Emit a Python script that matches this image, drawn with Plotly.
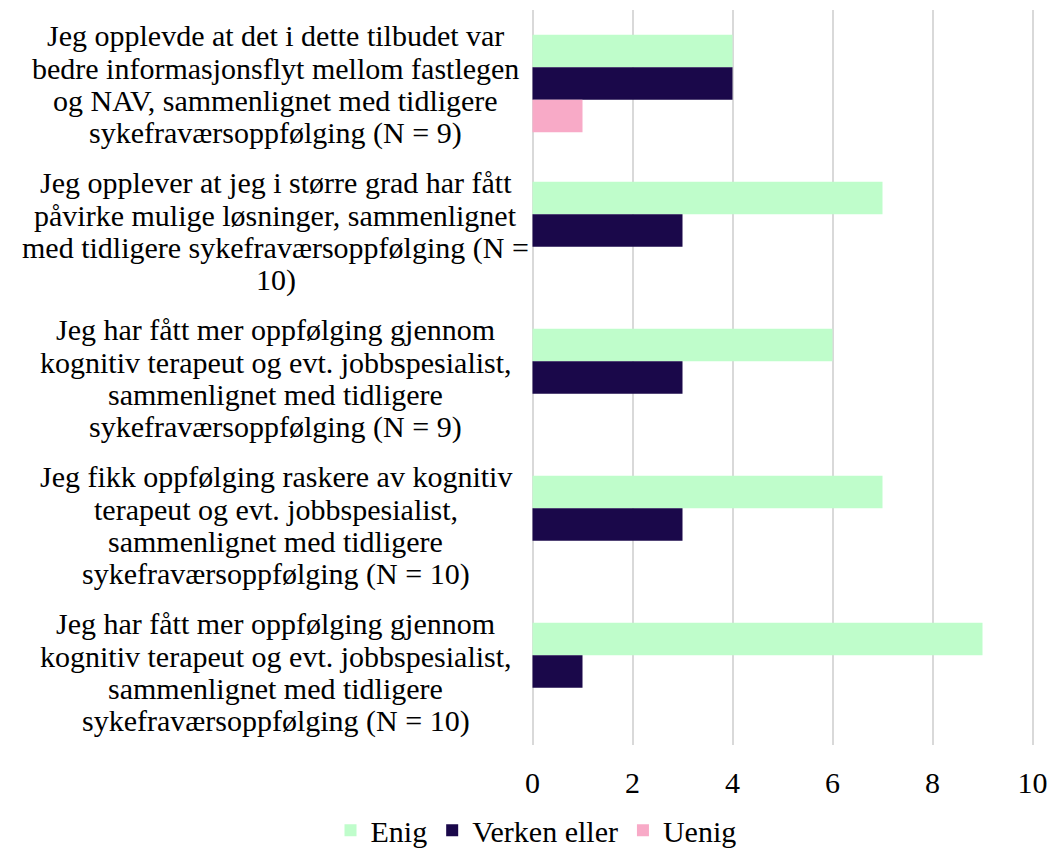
import plotly.graph_objects as go

categories = [
    "Jeg opplevde at det i dette tilbudet var<br>bedre informasjonsflyt mellom fastlegen<br>og NAV, sammenlignet med tidligere<br>sykefraværsoppfølging (N = 9)",
    "Jeg opplever at jeg i større grad har fått<br>påvirke mulige løsninger, sammenlignet<br>med tidligere sykefraværsoppfølging (N =<br>10)",
    "Jeg har fått mer oppfølging gjennom<br>kognitiv terapeut og evt. jobbspesialist,<br>sammenlignet med tidligere<br>sykefraværsoppfølging (N = 9)",
    "Jeg fikk oppfølging raskere av kognitiv<br>terapeut og evt. jobbspesialist,<br>sammenlignet med tidligere<br>sykefraværsoppfølging (N = 10)",
    "Jeg har fått mer oppfølging gjennom<br>kognitiv terapeut og evt. jobbspesialist,<br>sammenlignet med tidligere<br>sykefraværsoppfølging (N = 10)",
]
enig = [4, 7, 6, 7, 9]
verken = [4, 3, 3, 3, 1]
uenig = [1, None, None, None, None]
series_names = ["Enig", "Verken eller", "Uenig"]
colors = ["#BFFDCB", "#1A084A", "#F8AAC7"]
x_ticks = [0, 2, 4, 6, 8, 10]

FONT = "Liberation Serif"
FS = 30
LINE_H = 32.5

fig = go.Figure()
for name, vals, col in zip(series_names, [enig, verken, uenig], colors):
    fig.add_trace(go.Bar(
        y=categories, x=vals, name=name, orientation="h",
        marker=dict(color=col, line=dict(width=0)),
    ))

# category labels: centred, one annotation per wrapped line
for c in categories:
    lines = c.split("<br>")
    n = len(lines)
    for i, ln in enumerate(lines):
        fig.add_annotation(
            x=-0.507, xref="paper", y=c, yref="y", text=ln, showarrow=False,
            xanchor="center", yanchor="middle", align="center",
            yshift=((n - 1) / 2 - i) * LINE_H - 1,
            font=dict(family=FONT, size=FS, color="#000000"),
        )

fig.update_layout(
    width=1051, height=854,
    margin=dict(l=531, r=17, t=10, b=109, autoexpand=False),
    barmode="group", bargap=0.337, bargroupgap=0,
    plot_bgcolor="white", paper_bgcolor="white",
    font=dict(family=FONT, size=FS, color="#000000"),
    showlegend=True,
    legend=dict(
        orientation="h", xref="container", yref="paper",
        x=0.51, xanchor="center", y=-0.116, yanchor="middle",
        font=dict(family=FONT, size=FS, color="#000000"),
        itemwidth=30, traceorder="normal",
    ),
    xaxis=dict(
        range=[-0.03, 10.03], tickvals=x_ticks, showgrid=True, gridcolor="#D9D9D9",
        gridwidth=1.5, zeroline=False, showline=False, ticks="", automargin=False,
        ticklabelstandoff=17, tickfont=dict(family=FONT, size=FS, color="#000000"),
    ),
    yaxis=dict(
        autorange="reversed", showticklabels=False, showgrid=False,
        zeroline=False, showline=False, ticks="", automargin=False,
    ),
)

fig.write_html(
    "out.html",
    config={"displayModeBar": False},
    post_script=(
        "document.body.style.margin='0';"
        "document.documentElement.style.overflow='hidden';"
    ),
)
